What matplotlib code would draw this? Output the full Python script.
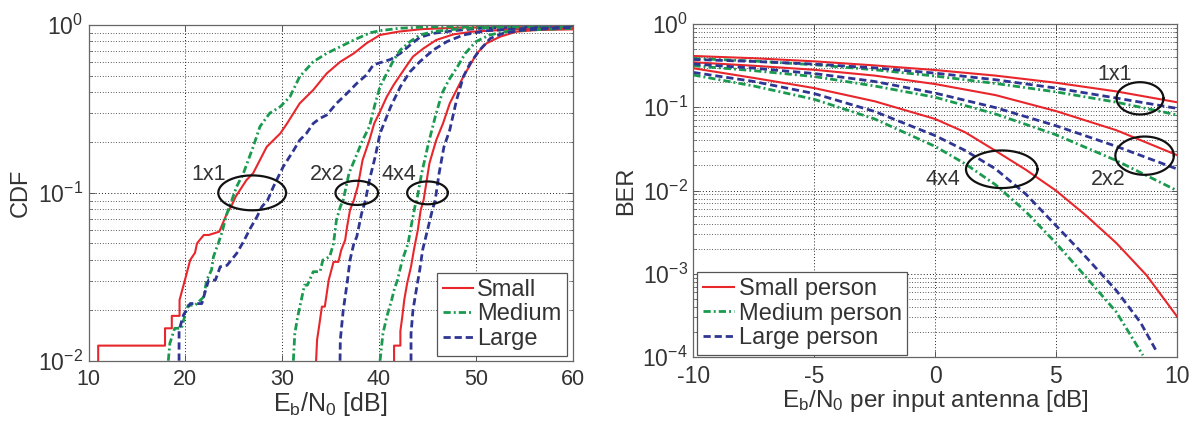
import numpy as np
import matplotlib
matplotlib.use("Agg")
import matplotlib.pyplot as plt

# ---------------------------------------------------------------- data
# CDF of Eb/N0 [dB] for body sizes and antenna configurations (x, CDF pairs)
cdf11_small_x = [11.0, 11.0, 17.9, 17.9, 18.6, 18.6, 19.4, 19.4, 20.0, 20.5, 21.0, 21.2, 21.9, 22.4,
                 23.5, 24.3, 24.8, 25.2, 26.3, 27.0, 28.4, 29.8, 30.5, 31.8, 33.2, 34.6, 36.0, 37.4,
                 38.7, 40.1, 42.0, 44.4, 48.4, 60.0]
cdf11_small_y = [0.0100, 0.0123, 0.0123, 0.0156, 0.0156, 0.0185, 0.0185, 0.0230, 0.0309, 0.0398,
                 0.0440, 0.0500, 0.0561, 0.0561, 0.0587, 0.0755, 0.0846, 0.0950, 0.119, 0.131, 0.188,
                 0.226, 0.259, 0.341, 0.410, 0.515, 0.604, 0.678, 0.778, 0.872, 0.913, 0.945, 0.965,
                 0.977]
cdf11_medium_x = [18.24, 18.4, 18.9, 19.6, 20.1, 20.3, 21.0, 21.9, 22.2, 22.7, 22.9, 23.4, 23.8, 24.3,
                  24.8, 25.3, 26.0, 27.0, 27.7, 28.7, 29.8, 30.8, 31.8, 33.2, 34.6, 36.0, 37.4, 39.1,
                  40.1, 42.0, 45.0, 60.0]
cdf11_medium_y = [0.0100, 0.0127, 0.0156, 0.0156, 0.0200, 0.0214, 0.0214, 0.0240, 0.0302, 0.0347,
                  0.0416, 0.0500, 0.0587, 0.0755, 0.0906, 0.109, 0.131, 0.188, 0.248, 0.298, 0.326,
                  0.374, 0.492, 0.604, 0.678, 0.743, 0.814, 0.900, 0.925, 0.955, 0.975, 0.990]
cdf11_large_x = [19.35, 19.35, 19.8, 20.5, 21.7, 22.0, 22.4, 23.1, 23.6, 24.3, 25.3, 26.0, 26.7, 27.4,
                 27.9, 28.5, 29.1, 30.1, 31.2, 31.8, 32.5, 33.2, 33.9, 34.6, 35.6, 36.7, 37.7, 38.7,
                 39.4, 40.1, 41.2, 42.2, 43.2, 44.2, 45.6, 47.7, 50.4, 60.0]
cdf11_large_y = [0.0100, 0.0152, 0.0187, 0.0219, 0.0219, 0.0252, 0.0302, 0.0302, 0.0363, 0.0370,
                 0.0436, 0.0512, 0.0614, 0.0721, 0.0827, 0.0906, 0.109, 0.143, 0.180, 0.206, 0.226,
                 0.259, 0.278, 0.291, 0.341, 0.392, 0.449, 0.504, 0.578, 0.596, 0.624, 0.678, 0.760,
                 0.844, 0.892, 0.925, 0.955, 0.986]

cdf22_small_x = [33.5, 33.6, 33.8, 34.1, 34.4, 34.8, 35.3, 35.8, 36.1, 36.5, 36.7, 37.0, 37.4, 37.8,
                 38.3, 39.0, 39.5, 40.1, 40.8, 41.5, 42.2, 42.9, 43.5, 44.6, 45.9, 47.7, 49.7, 53.8,
                 60.0]
cdf22_small_y = [0.0100, 0.0133, 0.0159, 0.0210, 0.0210, 0.0302, 0.0388, 0.0388, 0.0458, 0.0523,
                 0.0628, 0.079, 0.0906, 0.109, 0.157, 0.206, 0.259, 0.305, 0.374, 0.439, 0.504, 0.578,
                 0.648, 0.726, 0.814, 0.880, 0.913, 0.942, 0.955]
cdf22_medium_x = [31.15, 31.3, 31.6, 32.3, 32.6, 33.2, 33.9, 34.2, 34.9, 35.3, 35.6, 36.0, 36.3, 36.9,
                  37.6, 38.3, 39.0, 39.6, 40.1, 40.8, 41.5, 42.2, 43.2, 44.2, 45.6, 47.7, 50.4, 60.0]
cdf22_medium_y = [0.0100, 0.0145, 0.0183, 0.0282, 0.0282, 0.0339, 0.0339, 0.0398, 0.0416, 0.0500,
                  0.0689, 0.0827, 0.0906, 0.131, 0.164, 0.206, 0.248, 0.341, 0.429, 0.515, 0.618,
                  0.710, 0.796, 0.872, 0.913, 0.942, 0.964, 0.986]
cdf22_large_x = [35.97, 36.0, 36.3, 36.7, 37.0, 37.4, 37.7, 38.2, 38.6, 39.0, 39.6, 40.1, 41.2, 42.2,
                 43.2, 44.2, 45.6, 47.0, 48.7, 51.1, 55.6, 60.0]
cdf22_large_y = [0.0100, 0.0133, 0.0200, 0.0289, 0.0398, 0.0500, 0.0548, 0.0755, 0.0906, 0.119,
                 0.164, 0.226, 0.326, 0.429, 0.527, 0.604, 0.710, 0.796, 0.872, 0.925, 0.955, 0.968]

cdf44_small_x = [41.55, 41.55, 42.2, 42.2, 42.4, 42.6, 42.9, 43.3, 43.6, 44.0, 44.3, 44.6, 45.2, 45.9,
                 46.6, 47.3, 48.0, 48.7, 49.4, 50.1, 51.1, 52.5, 54.2, 56.3, 60.0]
cdf44_small_y = [0.0100, 0.0123, 0.0123, 0.0150, 0.0183, 0.0230, 0.0289, 0.0363, 0.0458, 0.0600,
                 0.0790, 0.0906, 0.150, 0.206, 0.259, 0.341, 0.410, 0.492, 0.578, 0.678, 0.778,
                 0.852, 0.913, 0.934, 0.942]
cdf44_medium_x = [40.1, 40.4, 40.8, 41.3, 41.6, 41.9, 42.4, 43.0, 43.3, 43.7, 43.9, 44.4, 45.1, 45.8,
                  46.5, 47.2, 48.1, 48.9, 50.0, 51.4, 53.1, 55.5, 60.0]
cdf44_medium_y = [0.0100, 0.0145, 0.0183, 0.0230, 0.0270, 0.0302, 0.0398, 0.0500, 0.0628, 0.0827,
                  0.0906, 0.131, 0.197, 0.284, 0.392, 0.470, 0.565, 0.678, 0.796, 0.872, 0.913,
                  0.934, 0.955]
cdf44_large_x = [43.3, 43.3, 43.5, 43.9, 44.2, 44.5, 45.0, 45.5, 45.8, 46.2, 46.7, 47.3, 48.0, 48.7,
                 49.4, 50.4, 51.5, 52.8, 54.9, 60.0]
cdf44_large_y = [0.0100, 0.0145, 0.0200, 0.0276, 0.0347, 0.0458, 0.0600, 0.0790, 0.0906, 0.131,
                 0.188, 0.237, 0.357, 0.492, 0.591, 0.710, 0.833, 0.892, 0.934, 0.968]

# BER versus Eb/N0 per input antenna [dB]
snr = [-10, -7.5, -5, -2.5, 0, 2.5, 5, 7.5, 10]
ber11_small = [0.413, 0.388, 0.356, 0.318, 0.280, 0.240, 0.197, 0.155, 0.115]
ber11_medium = [0.385, 0.359, 0.324, 0.282, 0.237, 0.193, 0.153, 0.115, 0.081]
ber11_large = [0.375, 0.355, 0.330, 0.297, 0.257, 0.214, 0.170, 0.129, 0.097]
ber22_small = [0.347, 0.315, 0.282, 0.240, 0.190, 0.140, 0.090, 0.053, 0.0267]
ber22_medium = [0.315, 0.275, 0.234, 0.180, 0.132, 0.083, 0.0468, 0.0229, 0.0100]
ber22_large = [0.331, 0.295, 0.254, 0.204, 0.148, 0.099, 0.060, 0.0339, 0.0182]
snr44 = [-10, -7.5, -5, -2.5, 0, 1.25, 2.5, 3.75, 5, 6.25, 7.5, 8.75, 10]
ber44_small = [0.294, 0.225, 0.170, 0.118, 0.0724, 0.050, 0.030, 0.0178, 0.0100, 0.0050, 0.00234,
               0.00096, 0.00031]
snr44_medium = [-10, -7.5, -5, -2.5, 0, 1.25, 2.5, 3.75, 5, 6.25, 7.5, 8.6]
ber44_medium = [0.244, 0.180, 0.1245, 0.0724, 0.0339, 0.0209, 0.01175, 0.0056, 0.00234, 0.00091,
                0.000347, 0.000105]
snr44_large = [-10, -7.5, -5, -2.5, 0, 1.25, 2.5, 3.75, 5, 6.25, 7.5, 8.5, 9.2]
ber44_large = [0.262, 0.204, 0.146, 0.089, 0.0457, 0.0302, 0.0182, 0.0091, 0.0038, 0.00158,
               0.00063, 0.00026, 0.000112]

sizes_left = ["Small", "Medium", "Large"]
sizes_right = ["Small person", "Medium person", "Large person"]

# ---------------------------------------------------------------- style
TXT = "#333333"
plt.rcParams.update({
    "font.family": ["Liberation Sans", "DejaVu Sans"],
    "mathtext.fontset": "custom",
    "mathtext.rm": "Liberation Sans",
    "mathtext.it": "Liberation Sans:italic",
    "mathtext.default": "regular",
    "axes.unicode_minus": False,
    "text.color": TXT,
    "axes.labelcolor": TXT,
    "xtick.color": "#555555",
    "ytick.color": "#555555",
    "xtick.labelcolor": TXT,
    "ytick.labelcolor": TXT,
})

RED = "#e8262b"
GREEN = "#1a9a4e"
BLUE = "#2e3592"

styles = [
    dict(color=RED, lw=1.5, linestyle="-"),
    dict(color=GREEN, lw=2.0, linestyle=(0, (2.6, 1.1, 0.7, 1.1))),
    dict(color=BLUE, lw=2.0, linestyle=(0, (2.6, 1.4))),
]


def style_axes(ax):
    for s in ax.spines.values():
        s.set_color("#666666")
        s.set_linewidth(0.9)
    ax.tick_params(which="both", direction="in", top=True, right=True)
    ax.tick_params(which="major", length=4, width=0.7)
    ax.tick_params(which="minor", length=2, width=0.5)
    ax.grid(True, which="major", linestyle=(0, (1, 2.2)), color="#222222", lw=0.7)
    ax.grid(True, which="minor", axis="y", linestyle=(0, (1, 2.2)), color="#222222", lw=0.6)
    ax.set_axisbelow(True)


def ring(ax, cx, cy, rx, rdec):
    t = np.linspace(0, 2 * np.pi, 200)
    ax.plot(cx + rx * np.cos(t), cy * 10 ** (rdec * np.sin(t)), color="#111111", lw=1.6,
            zorder=5)


fig = plt.figure(figsize=(11.96, 4.21), dpi=100)

# ---------------------------------------------------------------- left: CDF
ax1 = fig.add_axes([0.0740, 0.1432, 0.4049, 0.7974])
groups = [
    [(cdf11_small_x, cdf11_small_y), (cdf11_medium_x, cdf11_medium_y), (cdf11_large_x, cdf11_large_y)],
    [(cdf22_small_x, cdf22_small_y), (cdf22_medium_x, cdf22_medium_y), (cdf22_large_x, cdf22_large_y)],
    [(cdf44_small_x, cdf44_small_y), (cdf44_medium_x, cdf44_medium_y), (cdf44_large_x, cdf44_large_y)],
]
for gi, grp in enumerate(groups):
    for si, (xs, ys) in enumerate(grp):
        ax1.plot(xs, ys, label=sizes_left[si] if gi == 0 else None, **styles[si])

ax1.set_yscale("log")
ax1.set_xlim(10, 60)
ax1.set_ylim(1e-2, 1)
ax1.set_xticks([10, 20, 30, 40, 50, 60])
style_axes(ax1)
ax1.tick_params(axis="x", labelsize=15.5, pad=6)
ax1.tick_params(axis="y", labelsize=16.5, pad=4)
ax1.set_xlabel(r"$\mathrm{E_b/N_0}$ [dB]", fontsize=18, labelpad=0)
ax1.set_ylabel("CDF", fontsize=17, labelpad=4)

ring(ax1, 26.9, 0.100, 3.5, 0.104)
ring(ax1, 37.7, 0.100, 2.2, 0.072)
ring(ax1, 45.0, 0.100, 2.1, 0.068)
ax1.text(22.4, 0.129, "1x1", fontsize=15.5, ha="center", va="center")
ax1.text(34.7, 0.129, "2x2", fontsize=15.5, ha="center", va="center")
ax1.text(42.0, 0.129, "4x4", fontsize=15.5, ha="center", va="center")

leg1 = ax1.legend(loc="lower right", bbox_to_anchor=(0.988, 0.015), borderaxespad=0,
                  fontsize=17, handlelength=1.3, handletextpad=0.15, labelspacing=0.1,
                  borderpad=0.25, fancybox=False, framealpha=1, edgecolor="#555555")
leg1.get_frame().set_linewidth(0.9)

# ---------------------------------------------------------------- right: BER
ax2 = fig.add_axes([0.5797, 0.1520, 0.4042, 0.7910])
ber_groups = [
    [(snr, ber11_small), (snr, ber11_medium), (snr, ber11_large)],
    [(snr, ber22_small), (snr, ber22_medium), (snr, ber22_large)],
    [(snr44, ber44_small), (snr44_medium, ber44_medium), (snr44_large, ber44_large)],
]
for gi, grp in enumerate(ber_groups):
    for si, (xs, ys) in enumerate(grp):
        ax2.plot(xs, ys, label=sizes_right[si] if gi == 0 else None, **styles[si])

ax2.set_yscale("log")
ax2.set_xlim(-10, 10)
ax2.set_ylim(1e-4, 1)
ax2.set_xticks([-10, -5, 0, 5, 10])
style_axes(ax2)
ax2.tick_params(axis="x", labelsize=16.5, pad=6)
ax2.tick_params(axis="y", labelsize=16.5, pad=4)
ax2.set_xlabel(r"$\mathrm{E_b/N_0}$ per input antenna [dB]", fontsize=17.5, labelpad=0)
ax2.set_ylabel("BER", fontsize=17, labelpad=4)

ring(ax2, 8.48, 0.128, 0.97, 0.194)
ring(ax2, 8.67, 0.0262, 1.21, 0.230)
ring(ax2, 2.76, 0.0180, 1.48, 0.226)
ax2.text(7.45, 0.246, "1x1", fontsize=15.5, ha="center", va="center")
ax2.text(7.17, 0.0134, "2x2", fontsize=15.5, ha="center", va="center")
ax2.text(0.32, 0.0134, "4x4", fontsize=15.5, ha="center", va="center")

leg2 = ax2.legend(loc="lower left", bbox_to_anchor=(0.008, 0.006), borderaxespad=0,
                  fontsize=17, handlelength=1.3, handletextpad=0.2, labelspacing=0.1,
                  borderpad=0.25, fancybox=False, framealpha=1, edgecolor="#555555")
leg2.get_frame().set_linewidth(0.9)

fig.savefig("out.png", dpi=100)
